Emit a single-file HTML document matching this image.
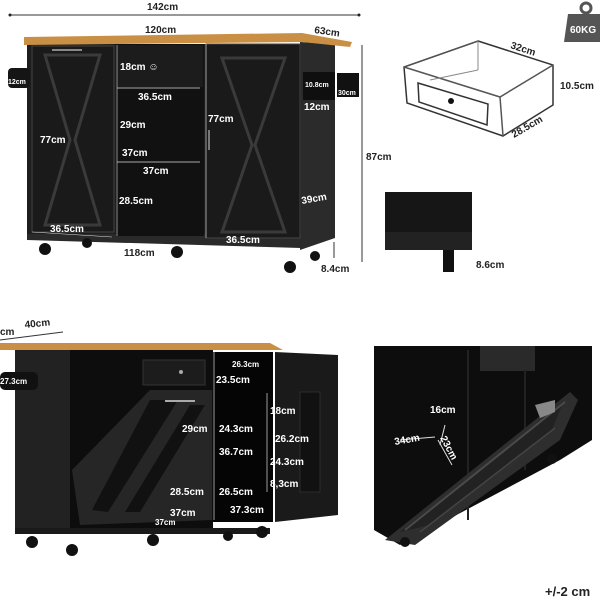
<!DOCTYPE html>
<html><head><meta charset="utf-8"><style>
html,body{margin:0;padding:0;background:#fff;}
svg{display:block;}
text{font-family:"Liberation Sans",sans-serif;font-weight:bold;}
.w{fill:#fff;font-size:10px;}
.k{fill:#222;font-size:10px;}
</style></head><body>
<svg width="600" height="600" viewBox="0 0 600 600" xmlns="http://www.w3.org/2000/svg">
<rect width="600" height="600" fill="#fff"/>
<!-- TOP LEFT ISLAND -->
<line x1="10" y1="15" x2="359" y2="15" stroke="#333" stroke-width="1"/>
<circle cx="10" cy="15" r="1.5" fill="#222"/><circle cx="359" cy="15" r="1.5" fill="#222"/>
<text x="147" y="10" class="k">142cm</text>
<polygon points="300,42 335,44 335,238 300,250" fill="#2b2b2b"/>
<rect x="27" y="44" width="274" height="190" fill="#1d1d1d"/>
<polygon points="27,234 301,234 301,248 27,240" fill="#2a2a2a"/>
<polygon points="24,37 302,33 352,42 350,47 302,42 24,45" fill="#c99045"/>
<text x="145" y="33" class="k">120cm</text>
<text x="314" y="33" class="k" transform="rotate(8 314 33)">63cm</text>
<rect x="32" y="46" width="82" height="186" fill="#1a1a1a" stroke="#444" stroke-width="1"/>
<polygon points="45,55 100,55 75,140 100,225 45,225 70,140" fill="none" stroke="#3a3a3a" stroke-width="3"/>
<line x1="52" y1="50" x2="82" y2="50" stroke="#888" stroke-width="2"/>
<rect x="206" y="44" width="94" height="194" fill="#1a1a1a" stroke="#444" stroke-width="1"/>
<polygon points="222,58 285,58 255,145 285,232 222,232 252,145" fill="none" stroke="#3a3a3a" stroke-width="3"/>
<line x1="209" y1="130" x2="209" y2="150" stroke="#777" stroke-width="2"/>
<rect x="116" y="44" width="88" height="192" fill="#111"/>
<rect x="117" y="45" width="86" height="42" fill="#1c1c1c"/>
<line x1="117" y1="88" x2="200" y2="88" stroke="#ddd" stroke-width="0.8"/>
<line x1="117" y1="162" x2="200" y2="162" stroke="#ddd" stroke-width="0.8"/>
<line x1="117" y1="45" x2="117" y2="236" stroke="#ddd" stroke-width="0.6"/>
<line x1="32" y1="232" x2="112" y2="237" stroke="#ddd" stroke-width="0.6"/>
<line x1="206" y1="44" x2="206" y2="238" stroke="#ddd" stroke-width="0.6"/>
<text x="120" y="70" class="w">18cm ☺</text>
<text x="138" y="100" class="w">36.5cm</text>
<text x="120" y="128" class="w">29cm</text>
<text x="122" y="156" class="w">37cm</text>
<text x="143" y="174" class="w">37cm</text>
<text x="119" y="204" class="w">28.5cm</text>
<text x="40" y="143" class="w">77cm</text>
<text x="208" y="122" class="w">77cm</text>
<text x="50" y="232" class="w">36.5cm</text>
<text x="226" y="243" class="w">36.5cm</text>
<text x="302" y="204" class="w" transform="rotate(-10 302 204)">39cm</text>
<text x="304" y="110" class="w">12cm</text>
<rect x="8" y="68" width="22" height="20" rx="4" fill="#151515"/>
<text x="8" y="84" style="fill:#fff;font-size:7px;font-weight:bold">12cm</text>
<rect x="303" y="72" width="32" height="28" fill="#0f0f0f"/>
<text x="305" y="87" style="fill:#fff;font-size:7px;font-weight:bold">10.8cm</text>
<rect x="337" y="73" width="22" height="24" fill="#111"/>
<text x="338" y="95" style="fill:#fff;font-size:7px;font-weight:bold">30cm</text>
<circle cx="45" cy="249" r="6" fill="#111"/><circle cx="87" cy="243" r="5" fill="#111"/>
<circle cx="177" cy="252" r="6" fill="#111"/><circle cx="290" cy="267" r="6" fill="#111"/><circle cx="315" cy="256" r="5" fill="#111"/>
<text x="124" y="256" class="k">118cm</text>
<line x1="362" y1="45" x2="362" y2="262" stroke="#333"/>
<text x="366" y="160" class="k">87cm</text>
<line x1="334" y1="242" x2="334" y2="258" stroke="#333"/>
<text x="321" y="272" class="k">8.4cm</text>
<!-- DRAWER -->
<polygon points="478,41 553,65 553,105 503,136 407,103 404,67" fill="#fff" stroke="#333" stroke-width="1.5"/>
<polyline points="404,67 478,41" fill="none" stroke="#555"/>
<polyline points="404,67 500,97 553,65" fill="none" stroke="#555" stroke-width="1.5"/>
<line x1="500" y1="97" x2="503" y2="136" stroke="#555" stroke-width="1.5"/>
<line x1="478" y1="41" x2="478" y2="70" stroke="#888"/>
<line x1="478" y1="70" x2="430" y2="80" stroke="#888"/>
<polygon points="418,83 488,104 487,125 419,102" fill="#fff" stroke="#333" stroke-width="1.5"/>
<circle cx="451" cy="101" r="3" fill="#111"/>
<text x="510" y="48" class="k" transform="rotate(18 510 48)">32cm</text>
<text x="560" y="89" class="k">10.5cm</text>
<text x="514" y="138" class="k" transform="rotate(-30 514 138)">28.5cm</text>
<polygon points="568,14 600,14 600,42 564,42" fill="#555"/>
<circle cx="586" cy="8" r="5" fill="none" stroke="#555" stroke-width="3"/>
<text x="570" y="33" style="fill:#fff;font-size:10px;font-weight:bold">60KG</text>
<rect x="385" y="192" width="87" height="58" fill="#161616"/>
<rect x="385" y="232" width="87" height="18" fill="#222"/>
<rect x="443" y="250" width="11" height="22" fill="#111"/>
<text x="476" y="268" class="k">8.6cm</text>
<!-- BOTTOM LEFT -->
<line x1="0" y1="340" x2="63" y2="332" stroke="#333"/>
<text x="0" y="335" class="k">cm</text>
<text x="25" y="328" class="k" transform="rotate(-6 25 328)">40cm</text>
<rect x="15" y="350" width="55" height="180" fill="#222"/>
<rect x="70" y="350" width="143" height="180" fill="#0d0d0d"/>
<rect x="213" y="352" width="60" height="170" fill="#050505"/>
<polygon points="0,343 270,343 283,350 0,350" fill="#c99045"/>
<rect x="143" y="360" width="62" height="25" fill="#1c1c1c" stroke="#333"/>
<circle cx="181" cy="372" r="2" fill="#aaa"/>
<polygon points="150,390 212,390 212,520 80,525 72,470" fill="#262626"/>
<polygon points="150,400 178,400 108,512 92,510" fill="#111"/>
<polygon points="190,405 205,405 140,512 125,512" fill="#111"/>
<line x1="165" y1="401" x2="195" y2="401" stroke="#aaa" stroke-width="2"/>
<polygon points="275,352 338,355 338,515 275,522" fill="#1a1a1a"/>
<rect x="300" y="392" width="20" height="100" fill="#111" stroke="#2c2c2c"/>
<rect x="0" y="372" width="38" height="18" rx="5" fill="#111"/>
<text x="0" y="384" style="fill:#fff;font-size:8px;font-weight:bold">27.3cm</text>
<line x1="214" y1="352" x2="214" y2="520" stroke="#ddd" stroke-width="0.7"/>
<line x1="267" y1="393" x2="267" y2="492" stroke="#ddd" stroke-width="0.7"/>
<text x="232" y="367" style="fill:#fff;font-size:8px;font-weight:bold">26.3cm</text>
<text x="216" y="383" class="w">23.5cm</text>
<text x="270" y="414" class="w">18cm</text>
<text x="182" y="432" class="w">29cm</text>
<text x="219" y="432" class="w">24.3cm</text>
<text x="275" y="442" class="w">26.2cm</text>
<text x="219" y="455" class="w">36.7cm</text>
<text x="270" y="465" class="w">24.3cm</text>
<text x="270" y="487" class="w">8,3cm</text>
<text x="170" y="495" class="w">28.5cm</text>
<text x="219" y="495" class="w">26.5cm</text>
<text x="230" y="513" class="w">37.3cm</text>
<text x="170" y="516" class="w">37cm</text>
<text x="155" y="525" style="fill:#fff;font-size:8px;font-weight:bold">37cm</text>
<rect x="15" y="528" width="255" height="6" fill="#1a1a1a"/>
<circle cx="32" cy="542" r="6" fill="#111"/><circle cx="72" cy="550" r="6" fill="#111"/>
<circle cx="153" cy="540" r="6" fill="#111"/><circle cx="228" cy="536" r="5" fill="#111"/><circle cx="262" cy="532" r="6" fill="#111"/>
<!-- BOTTOM RIGHT -->
<polygon points="374,346 592,346 592,440 560,460 400,545 374,530" fill="#0d0d0d"/>
<rect x="480" y="346" width="55" height="25" fill="#2a2a2a"/>
<line x1="468" y1="350" x2="468" y2="520" stroke="#222" stroke-width="2"/>
<line x1="525" y1="370" x2="525" y2="470" stroke="#222" stroke-width="2"/>
<polygon points="385,540 570,392 578,400 560,440 415,545" fill="#2e2e2e"/>
<polygon points="400,532 562,405 552,430 430,525" fill="#222"/>
<line x1="405" y1="530" x2="565" y2="402" stroke="#4a4a4a" stroke-width="2"/>
<line x1="420" y1="532" x2="555" y2="428" stroke="#444" stroke-width="1.5"/>
<polygon points="535,405 555,400 555,412 540,418" fill="#888"/>
<line x1="445" y1="425" x2="440" y2="445" stroke="#ddd"/>
<line x1="400" y1="440" x2="435" y2="437" stroke="#ddd"/>
<line x1="438" y1="440" x2="452" y2="465" stroke="#ddd"/>
<text x="430" y="413" class="w">16cm</text>
<text x="395" y="445" class="w" transform="rotate(-10 395 445)">34cm</text>
<text x="440" y="438" class="w" transform="rotate(62 440 438)">23cm</text>
<circle cx="405" cy="542" r="5" fill="#111"/><circle cx="552" cy="459" r="5" fill="#111"/>
<text x="545" y="596" style="fill:#222;font-size:13px;font-weight:bold">+/-2 cm</text>
</svg>
</body></html>
